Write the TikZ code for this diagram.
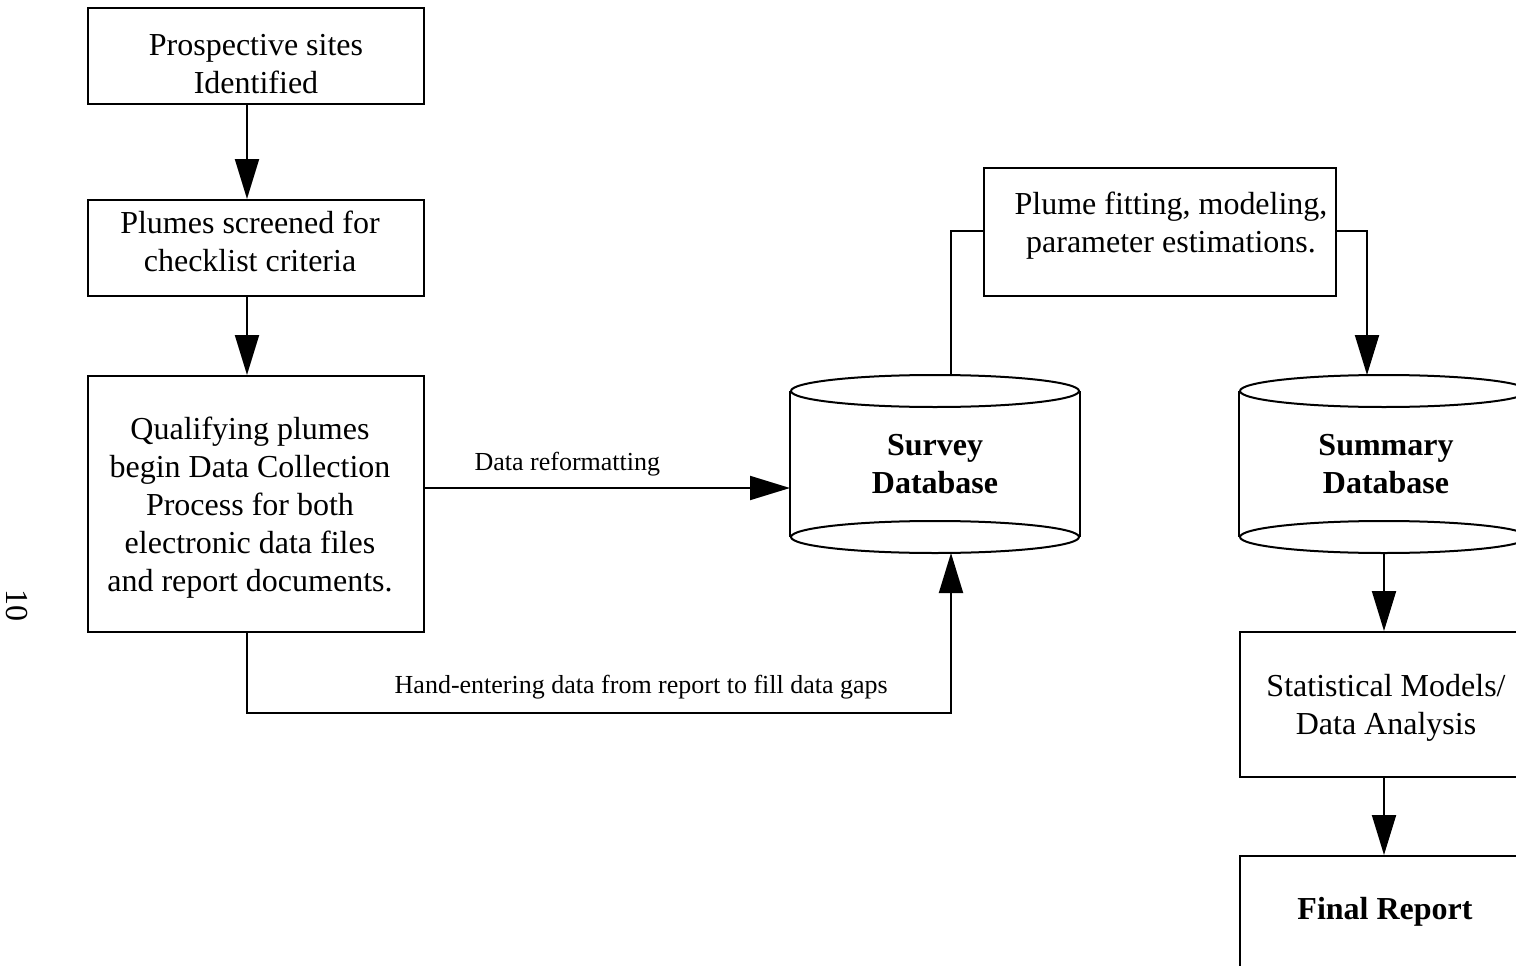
\documentclass[tikz,border=0pt]{standalone}
\usepackage{fontspec}
\setmainfont{Liberation Serif}
\usetikzlibrary{arrows.meta,calc}
\begin{document}
\begin{tikzpicture}[x=1pt,y=-1pt,line width=2pt,
  box/.style={draw,rectangle,inner sep=0pt,line width=2pt},
  cyl/.style={rectangle,inner sep=0pt,minimum width=288pt,minimum height=176pt},
  lbl/.style={align=center,inner sep=0pt,font=\fontsize{32}{38}\selectfont},
  blbl/.style={align=center,inner sep=0pt,font=\fontsize{32}{38}\selectfont\bfseries},
  small/.style={inner sep=0pt,font=\fontsize{26}{31}\selectfont},
  arr/.style={-{Triangle[length=40pt,width=24pt]}}]
\useasboundingbox (0,0) rectangle (1516,966);
\clip (0,0) rectangle (1516,966);
% boxes
\node[box,minimum width=336pt,minimum height=96pt] (b1) at (256,56) {};
\node[box,minimum width=336pt,minimum height=96pt] (b2) at (256,248) {};
\node[box,minimum width=336pt,minimum height=256pt] (b3) at (256,504) {};
\node[box,minimum width=352pt,minimum height=128pt] (plume) at (1160,232) {};
\node[box,minimum width=288pt,minimum height=145pt] (stat) at (1384,704.5) {};
\node[box,minimum width=288pt,minimum height=145pt] (final) at (1384,928.5) {};
% cylinders
\node[cyl] (sv) at (935,464) {};
\node[cyl] (sm) at (1384,464) {};
\foreach \c in {sv,sm}{
  \draw ($(\c.north)+(0,16)$) ellipse [x radius=144pt,y radius=16pt];
  \draw ($(\c.south)+(0,-16)$) ellipse [x radius=144pt,y radius=16pt];
  \draw ($(\c.north west)+(0,16)$) -- ($(\c.south west)+(0,-16)$);
  \draw ($(\c.north east)+(0,16)$) -- ($(\c.south east)+(0,-16)$);
}
% texts
\node[lbl] at (256,64) {Prospective sites\\Identified};
\node[lbl] at (250,241) {Plumes screened for\\checklist criteria};
\node[lbl] at (250,508) {Qualifying plumes\\begin Data Collection\\Process for both\\electronic data files\\and report documents.};
\node[lbl] at (1171,226) {Plume fitting, modeling,\\parameter estimations.};
\node[blbl] at (935,464) {Survey\\Database};
\node[blbl] at (1386,464) {Summary\\Database};
\node[lbl] at (1386,708) {Statistical Models/\\Data Analysis};
\node[blbl] at (1385,912) {Final Report};
\node[lbl,rotate=-90] (pg) at (17,605) {10};
% connectors
\draw[arr] ($(b1.south)+(-9,0)$) -- ($(b2.north)+(-9,0)$);
\draw[arr] ($(b2.south)+(-9,0)$) -- ($(b3.north)+(-9,0)$);
\draw[arr] ($(b3.east)+(0,-16)$) -- node[small,above=11pt,pos=0.39] {Data reformatting} ($(sv.west)+(0,24)$);
\draw[arr] ($(b3.south)+(-9,0)$) -- ++(0,80) -| node[small,above=13pt,pos=0.28] {Hand-entering data from report to fill data gaps} ($(sv.south)+(16,0)$);
\draw ($(plume.west)+(0,-1)$) -| ($(sv.north)+(16,0)$);
\draw[arr] ($(plume.east)+(0,-1)$) -| ($(sm.north)+(-17,0)$);
\draw[arr] (sm.south) -- (stat.north);
\draw[arr] (stat.south) -- (final.north);
\end{tikzpicture}
\end{document}
